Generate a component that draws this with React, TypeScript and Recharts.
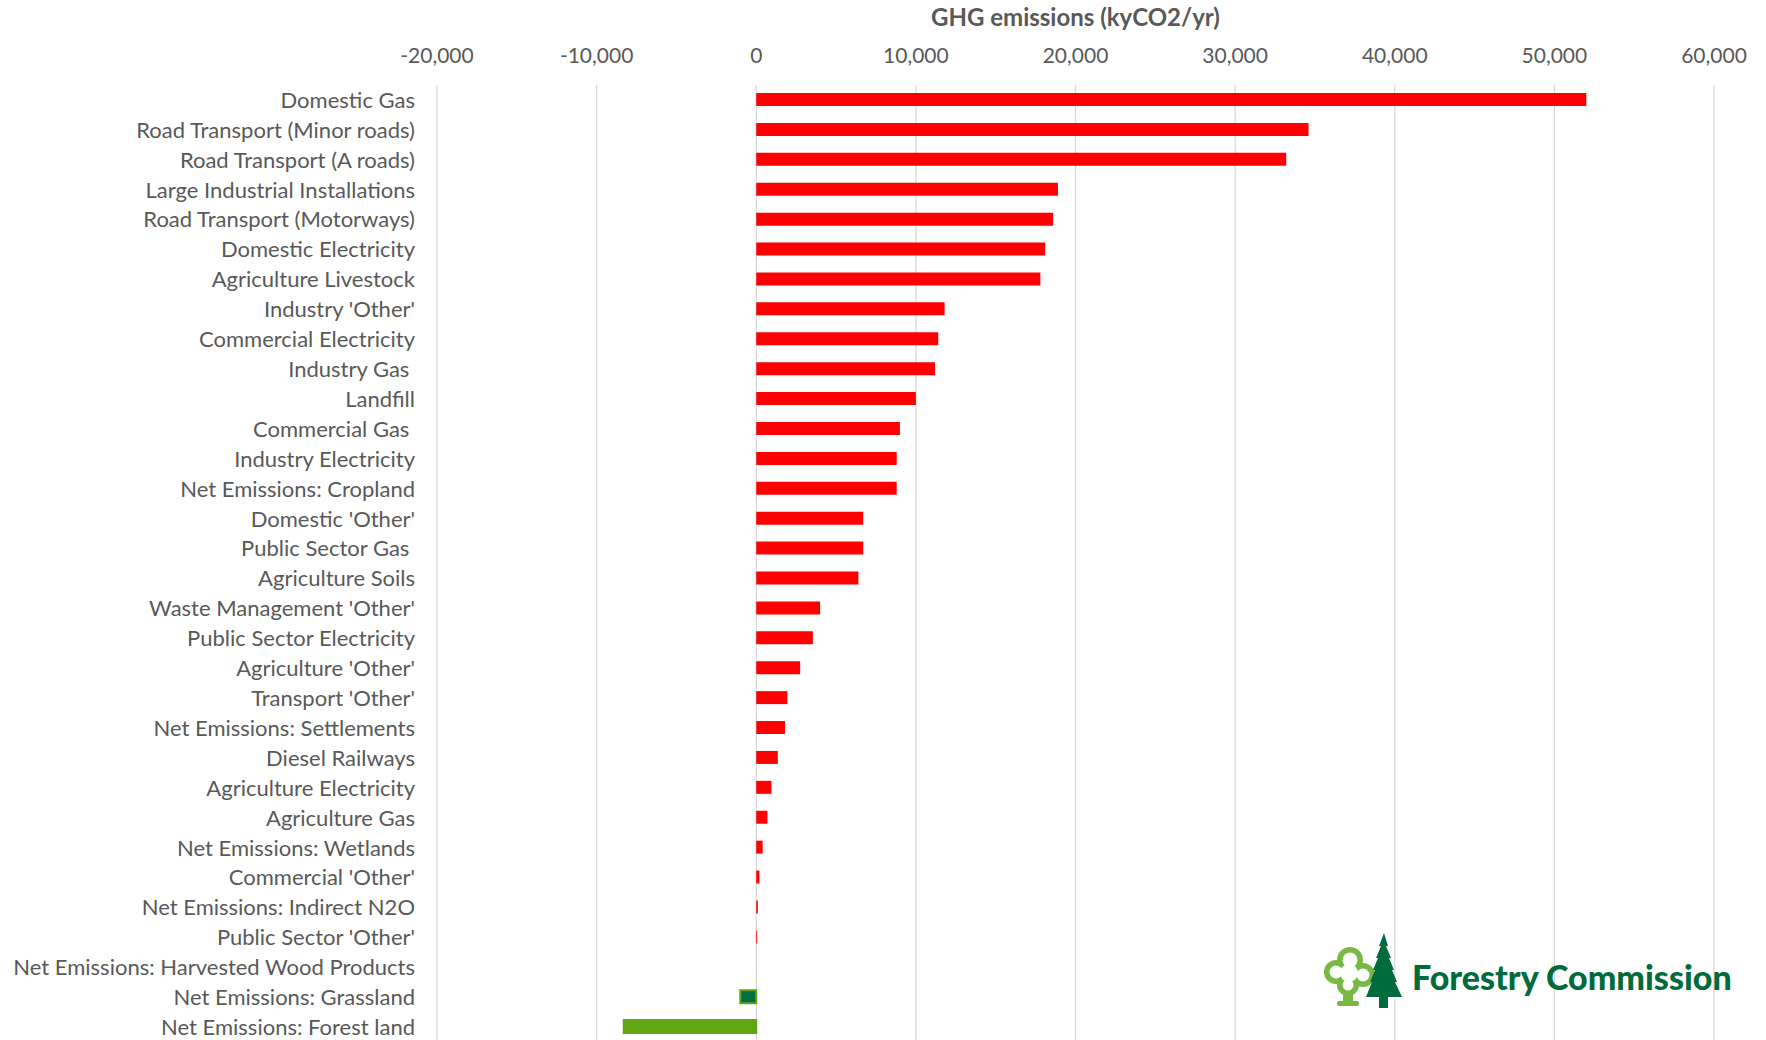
import React from 'react';
import { BarChart, Bar, XAxis, YAxis, CartesianGrid, Cell } from 'recharts';

const categories = [
  'Domestic Gas',
  'Road Transport (Minor roads)',
  'Road Transport (A roads)',
  'Large Industrial Installations',
  'Road Transport (Motorways)',
  'Domestic Electricity',
  'Agriculture Livestock',
  "Industry 'Other'",
  'Commercial Electricity',
  'Industry Gas ',
  'Landfill',
  'Commercial Gas ',
  'Industry Electricity',
  'Net Emissions: Cropland',
  "Domestic 'Other'",
  'Public Sector Gas ',
  'Agriculture Soils',
  "Waste Management 'Other'",
  'Public Sector Electricity',
  "Agriculture 'Other'",
  "Transport 'Other'",
  'Net Emissions: Settlements',
  'Diesel Railways',
  'Agriculture Electricity',
  'Agriculture Gas',
  'Net Emissions: Wetlands',
  "Commercial 'Other'",
  'Net Emissions: Indirect N2O',
  "Public Sector 'Other'",
  'Net Emissions: Harvested Wood Products',
  'Net Emissions: Grassland',
  'Net Emissions: Forest land',
];

const emissions = [
  52000, 34600, 33200, 18900, 18600, 18100, 17800, 11800, 11400, 11200, 10000, 9000, 8800, 8800,
  6700, 6700, 6400, 4000, 3550, 2750, 1950, 1800, 1350, 950, 700, 400, 200, 100, 60, 0, -1000, -8300,
];

const xTicks = [-20000, -10000, 0, 10000, 20000, 30000, 40000, 50000, 60000];

const axisTitle = 'GHG emissions (kyCO2/yr)';
const logoText = 'Forestry Commission';

const data = categories.map((name, i) => ({ name, value: emissions[i] }));

const FONT = "Lato, 'Open Sans', sans-serif";
const TEXT_GRAY = '#595959';
const POS_FILL = '#ff0000';
const specialStyle: Record<string, { fill: string; stroke: string }> = {
  'Net Emissions: Grassland': { fill: '#00703c', stroke: '#62a31a' },
  'Net Emissions: Forest land': { fill: '#63a515', stroke: '#63a515' },
};

const fmt = (v: number) => v.toLocaleString('en-US');

const CategoryTick = (props: any) => {
  const { x, y, payload } = props;
  const label = String(payload.value).replace(/ $/, '\u00A0');
  return (
    <text
      x={x}
      y={y}
      dy="0.36em"
      textAnchor="end"
      fill={TEXT_GRAY}
      fontSize={22}
      fontFamily={FONT}
      style={{ whiteSpace: 'pre' }}
    >
      {label}
    </text>
  );
};

const Logo = () => (
  <svg
    width={1766}
    height={1040}
    style={{ position: 'absolute', left: 0, top: 0, pointerEvents: 'none' }}
  >
    {/* deciduous tree outline */}
    <g fill="#78b843">
      <circle cx={1336} cy={972} r={12} />
      <circle cx={1350} cy={960} r={13} />
      <circle cx={1363} cy={975} r={12} />
      <circle cx={1348} cy={985} r={11} />
      <rect x={1343} y={988} width={10} height={17} />
      <rect x={1337} y={1001} width={22} height={5} rx={2} />
    </g>
    <g fill="#ffffff">
      <circle cx={1336} cy={972} r={6.5} />
      <circle cx={1350} cy={960} r={7.5} />
      <circle cx={1363} cy={975} r={6.5} />
      <circle cx={1348} cy={985} r={5.5} />
      <circle cx={1349} cy={973} r={9} />
    </g>
    {/* conifer */}
    <polygon
      fill="#006b3c"
      points="1384,933 1388,946 1386,946 1391,958 1389,958 1394,970 1392,970 1397,982 1395,982 1402,997 1388,997 1388,1008 1379,1008 1379,997 1366,997 1372,982 1370,982 1375,970 1373,970 1378,958 1376,958 1381,946 1379,946"
    />
    <text
      x={1412}
      y={990}
      fill="#006b3c"
      fontFamily="Lato, sans-serif"
      fontWeight={900}
      fontSize={34}
    >
      {logoText}
    </text>
  </svg>
);

export default function App() {
  return (
    <div
      style={{
        position: 'fixed',
        left: 0,
        top: 0,
        width: 1766,
        height: 1040,
        overflow: 'hidden',
        background: '#ffffff',
      }}
    >
      <BarChart
        width={1766}
        height={1042}
        data={data}
        layout="vertical"
        margin={{ top: 0, right: 52, bottom: 0, left: 0 }}
      >
        <CartesianGrid horizontal={false} stroke="#d9d9d9" strokeWidth={1.3} />
        <XAxis
          type="number"
          orientation="top"
          domain={[-20000, 60000]}
          ticks={xTicks}
          tickFormatter={fmt}
          height={85}
          tickSize={0}
          tickMargin={22}
          axisLine={false}
          tickLine={false}
          tick={{ fill: TEXT_GRAY, fontSize: 21, fontFamily: FONT }}
          label={{
            value: axisTitle,
            position: 'insideTop',
            offset: 9,
            fill: TEXT_GRAY,
            fontSize: 24,
            fontWeight: 'bold',
            fontFamily: FONT,
          }}
        />
        <YAxis
          type="category"
          dataKey="name"
          width={437}
          interval={0}
          tickSize={0}
          tickMargin={22}
          axisLine={false}
          tickLine={false}
          tick={<CategoryTick />}
        />
        <Bar dataKey="value" barSize={13} isAnimationActive={false}>
          {data.map((d) => {
            const s = specialStyle[d.name];
            return (
              <Cell
                key={d.name}
                fill={s ? s.fill : POS_FILL}
                stroke={s ? s.stroke : POS_FILL}
                strokeWidth={s ? 2 : 0}
              />
            );
          })}
        </Bar>
      </BarChart>
      <Logo />
    </div>
  );
}
